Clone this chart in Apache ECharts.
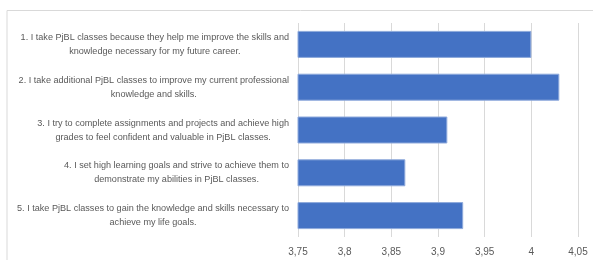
<!DOCTYPE html>
<html>
<head>
<meta charset="utf-8">
<script src="https://cdn.jsdelivr.net/npm/echarts@6/dist/echarts.min.js"></script>
<style>
  html, body { margin: 0; padding: 0; background: #fff; }
  #chart { width: 593px; height: 260px; }
</style>
</head>
<body>
<div id="chart"></div>
<script>
// statements (top to bottom)
const categories = [
  "1. I take PjBL classes because they help me improve the skills and\nknowledge necessary for my future career.",
  "2. I take additional PjBL classes to improve my current professional\nknowledge and skills.",
  "3. I try to complete assignments and projects and achieve high\ngrades to feel confident and valuable in PjBL classes.",
  "4. I set high learning goals and strive to achieve them to\ndemonstrate my abilities in PjBL classes.",
  "5. I take PjBL classes to gain the knowledge and skills necessary to\nachieve my life goals."
];
const values = [4.0, 4.03, 3.91, 3.865, 3.927];
const tickMin = 3.75;
const tickMax = 4.05;
const tickStep = 0.05;

const chart = echarts.init(document.getElementById('chart'));

chart.setOption({
  animation: false,
  graphic: [
    {
      type: 'polyline',
      shape: { points: [[7, 270], [7, 10.5], [600, 10.5]] },
      style: { stroke: '#d9d9d9', fill: null, lineWidth: 1 }
    }
  ],
  grid: { left: 298, right: 15, top: 23, bottom: 23 },
  xAxis: {
    type: 'value',
    min: tickMin,
    max: tickMax,
    interval: tickStep,
    axisLine: { show: false },
    axisTick: { show: false },
    splitLine: { lineStyle: { color: '#d9d9d9', width: 1 } },
    axisLabel: {
      color: '#595959',
      fontSize: 10,
      fontFamily: 'Liberation Sans',
      margin: 10,
      formatter: v => String(+v.toFixed(2)).replace('.', ',')
    }
  },
  yAxis: {
    type: 'category',
    inverse: true,
    data: categories,
    axisLine: { show: false },
    axisTick: { show: false },
    axisLabel: {
      margin: 9,
      align: 'right',
      formatter: v => v.split('\n').map(s => '{c|' + s + '}').join('\n'),
      rich: {
        c: {
          align: 'center',
          color: '#595959',
          fontSize: 9.1,
          fontFamily: 'Liberation Sans',
          lineHeight: 14
        }
      }
    }
  },
  series: [{
    type: 'bar',
    data: values,
    barWidth: 27,
    itemStyle: { color: '#4472c4', borderColor: '#8faadc', borderWidth: 1 }
  }]
});
</script>
</body>
</html>
